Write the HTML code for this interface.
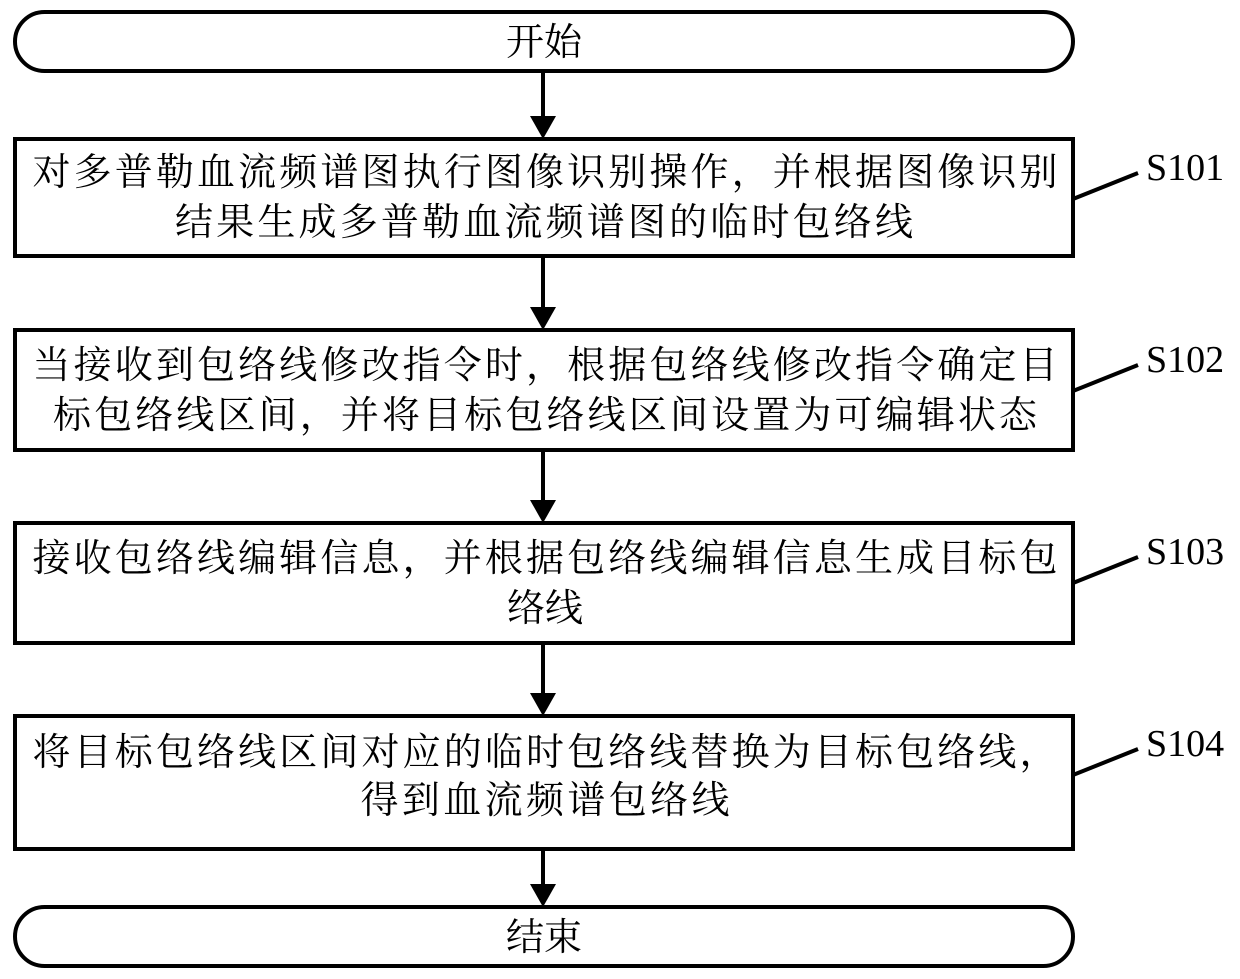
<!DOCTYPE html>
<html><head><meta charset="utf-8"><style>html,body{margin:0;padding:0;background:#fff}svg{display:block}</style></head>
<body>
<svg width="1240" height="979" viewBox="0 0 1240 979" xmlns="http://www.w3.org/2000/svg">
<g fill="none" stroke="#000" stroke-width="4">
<rect x="15" y="12" width="1058" height="59" rx="29.5"/>
<rect x="15" y="139" width="1058" height="117"/>
<rect x="15" y="330" width="1058" height="120"/>
<rect x="15" y="523" width="1058" height="120"/>
<rect x="15" y="716" width="1058" height="133"/>
<rect x="15" y="907" width="1058" height="59" rx="29.5"/>
<line x1="543" y1="71" x2="543" y2="120"/>
<line x1="543" y1="256" x2="543" y2="311"/>
<line x1="543" y1="450" x2="543" y2="504"/>
<line x1="543" y1="643" x2="543" y2="697"/>
<line x1="543" y1="849" x2="543" y2="888"/>
<line x1="1073" y1="199" x2="1138" y2="173"/>
<line x1="1073" y1="391" x2="1138" y2="365"/>
<line x1="1073" y1="583" x2="1138" y2="557"/>
<line x1="1073" y1="775" x2="1138" y2="749"/>
</g>
<g fill="#000">
<polygon points="530,116 556,116 543,139"/>
<polygon points="530,307 556,307 543,330"/>
<polygon points="530,500 556,500 543,523"/>
<polygon points="530,693 556,693 543,716"/>
<polygon points="530,884 556,884 543,907"/>
</g>
<g font-family="'Liberation Serif','Noto Serif CJK SC',serif" font-size="38" fill="#000" text-anchor="middle">
<text x="544" y="55">开始</text>
<text x="544" y="950">结束</text>
<text x="545" y="185" textLength="1025" lengthAdjust="spacing">对多普勒血流频谱图执行图像识别操作，并根据图像识别</text>
<text x="544" y="235" textLength="738" lengthAdjust="spacing">结果生成多普勒血流频谱图的临时包络线</text>
<text x="545" y="378" textLength="1025" lengthAdjust="spacing">当接收到包络线修改指令时，根据包络线修改指令确定目</text>
<text x="545" y="428" textLength="984" lengthAdjust="spacing">标包络线区间，并将目标包络线区间设置为可编辑状态</text>
<text x="545" y="571" textLength="1025" lengthAdjust="spacing">接收包络线编辑信息，并根据包络线编辑信息生成目标包</text>
<text x="545" y="621">络线</text>
<text x="545" y="765" textLength="1025" lengthAdjust="spacing">将目标包络线区间对应的临时包络线替换为目标包络线，</text>
<text x="545" y="813" textLength="369" lengthAdjust="spacing">得到血流频谱包络线</text>
</g>
<g font-family="'Liberation Serif',serif" font-size="38" fill="#000">
<text x="1146" y="180">S101</text>
<text x="1146" y="372">S102</text>
<text x="1146" y="564">S103</text>
<text x="1146" y="756">S104</text>
</g>
</svg>
</body></html>
